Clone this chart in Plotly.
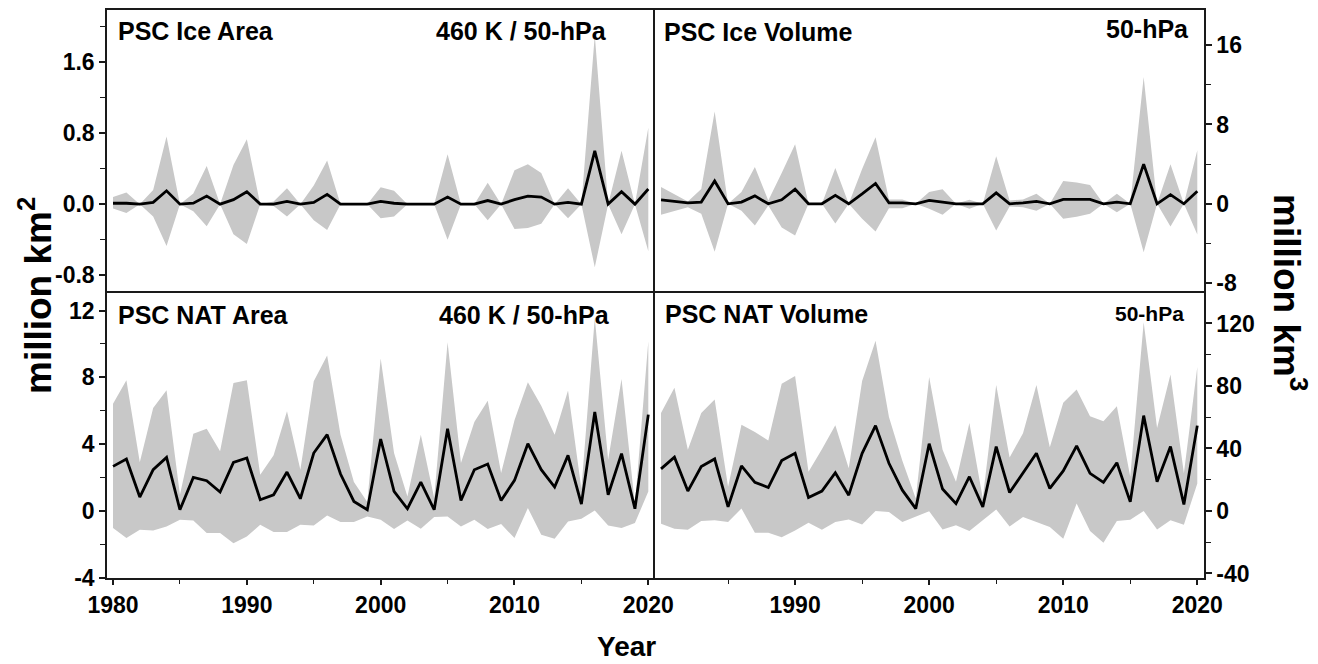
import plotly.graph_objects as go

years = list(range(1980, 2021))

ice_area_mean = [0.01, 0.01, 0.0, 0.02, 0.15, 0.0, 0.01, 0.09, 0.0, 0.05,
                 0.14, 0.0, 0.0, 0.03, 0.0, 0.02, 0.11, 0.0, 0.0, 0.0,
                 0.03, 0.01, 0.0, 0.0, 0.0, 0.08, 0.0, 0.0, 0.04, 0.0,
                 0.05, 0.09, 0.08, 0.0, 0.02, 0.0, 0.6, 0.0, 0.14, 0.0, 0.17]
ice_area_upper = [0.08, 0.13, 0.0, 0.16, 0.76, 0.0, 0.12, 0.43, 0.0, 0.44,
                  0.73, 0.0, 0.03, 0.18, 0.0, 0.21, 0.49, 0.0, 0.0, 0.0,
                  0.19, 0.15, 0.0, 0.0, 0.0, 0.56, 0.0, 0.0, 0.24, 0.0,
                  0.38, 0.45, 0.35, 0.0, 0.18, 0.0, 1.90, 0.0, 0.60, 0.0, 0.86]
ice_area_lower = [-0.05, -0.10, 0.0, -0.14, -0.47, 0.0, -0.08, -0.25, 0.0, -0.34,
                  -0.45, 0.0, -0.02, -0.14, 0.0, -0.18, -0.29, 0.0, 0.0, 0.0,
                  -0.16, -0.14, 0.0, 0.0, 0.0, -0.40, 0.0, 0.0, -0.18, 0.0,
                  -0.28, -0.27, -0.22, 0.0, -0.16, 0.0, -0.71, 0.0, -0.34, 0.0, -0.53]

ice_vol_mean = [0.4, 0.27, 0.1, 0.17, 2.3, 0.0, 0.17, 0.8, 0.0, 0.4,
                1.47, 0.0, 0.0, 0.85, 0.0, 1.0, 2.05, 0.1, 0.1, 0.0,
                0.34, 0.17, 0.0, 0.0, 0.0, 1.1, 0.0, 0.1, 0.24, 0.0,
                0.44, 0.44, 0.44, 0.0, 0.17, 0.0, 4.0, 0.0, 0.92, 0.0, 1.26]
ice_vol_upper = [1.7, 1.0, 0.24, 1.5, 9.3, 0.0, 1.2, 3.7, 0.34, 3.1,
                 6.0, 0.0, 0.0, 3.6, 0.0, 3.5, 6.7, 0.44, 0.44, 0.0,
                 1.2, 1.47, 0.0, 0.4, 0.0, 4.8, 0.34, 0.44, 1.0, 0.0,
                 2.3, 2.15, 1.9, 0.0, 1.0, 0.0, 12.8, 0.0, 4.0, 0.0, 5.4]
ice_vol_lower = [-1.1, -0.7, -0.34, -1.0, -4.85, 0.0, -0.7, -2.2, -0.17, -2.4,
                 -3.2, 0.0, 0.0, -2.0, 0.0, -1.5, -2.8, -0.44, -0.44, 0.0,
                 -0.5, -1.1, 0.0, -0.5, 0.0, -2.7, -0.27, -0.34, -0.7, 0.0,
                 -1.5, -1.3, -1.0, 0.0, -0.85, 0.0, -4.9, 0.0, -2.3, 0.0, -3.1]

nat_area_mean = [2.66, 3.1, 0.82, 2.46, 3.2, 0.06, 2.0, 1.8, 1.12, 2.9,
                 3.16, 0.66, 0.96, 2.32, 0.72, 3.46, 4.56, 2.2, 0.56, 0.06,
                 4.3, 1.16, 0.12, 1.72, 0.06, 4.92, 0.62, 2.46, 2.8, 0.62,
                 1.82, 4.02, 2.46, 1.42, 3.32, 0.4, 5.92, 0.96, 3.42, 0.12, 5.76]
nat_area_upper = [6.42, 7.82, 2.9, 6.16, 7.22, 0.96, 4.62, 4.92, 3.56, 7.66,
                  7.82, 2.16, 3.32, 5.96, 2.46, 7.76, 9.3, 4.56, 1.72, 0.52,
                  9.12, 3.46, 0.86, 4.56, 0.76, 10.1, 2.86, 5.32, 6.6, 2.26,
                  5.42, 7.7, 6.3, 4.56, 7.2, 1.3, 11.56, 3.06, 7.9, 0.36, 10.16]
nat_area_lower = [-1.04, -1.64, -1.14, -1.18, -0.94, -0.54, -0.58, -1.34, -1.34, -1.94,
                  -1.54, -0.84, -1.28, -1.28, -0.84, -0.88, -0.28, -0.68, -0.68, -0.34,
                  -0.54, -1.1, -0.58, -1.08, -0.38, -0.34, -0.94, -0.54, -1.1, -0.8,
                  -1.64, 0.16, -1.44, -1.68, -0.64, -0.48, 0.02, -0.88, -1.04, -0.74, 1.16]

nat_vol_mean = [26.9, 34.4, 12.7, 28.4, 33.3, 2.6, 28.8, 18.3, 15.0, 32.2,
                36.9, 8.6, 12.7, 24.5, 10.1, 36.9, 54.6, 30.5, 13.3, 1.5,
                43.0, 14.0, 4.7, 21.9, 2.6, 41.2, 11.8, 24.5, 36.9, 14.4,
                25.6, 41.7, 24.1, 18.3, 30.9, 5.8, 61.0, 18.7, 41.2, 4.1, 54.6]
nat_vol_upper = [62.7, 78.8, 39.1, 62.7, 71.3, 15.5, 55.2, 50.5, 45.1, 81.4,
                 86.4, 25.1, 39.5, 54.8, 27.3, 83.1, 108.9, 60.2, 32.2, 7.9,
                 85.7, 39.1, 18.7, 56.3, 7.9, 80.6, 34.2, 49.8, 80.6, 40.8,
                 69.2, 77.8, 60.6, 57.4, 67.0, 21.9, 120.7, 53.1, 87.4, 24.1, 92.2]
nat_vol_lower = [-8.2, -11.4, -12.0, -6.4, -6.0, -7.1, 1.5, -14.0, -14.0, -16.8,
                 -12.5, -7.5, -12.0, -7.1, -5.4, -8.6, 0.0, -0.6, -7.1, -3.9,
                 -0.2, -11.8, -9.2, -12.9, -6.0, 0.9, -9.9, -3.9, -7.1, -10.3,
                 -17.8, 4.7, -12.9, -20.4, -6.4, -5.6, 0.0, -11.8, -6.0, -8.8, 17.6]

left_year_ticks = [1980, 1990, 2000, 2010, 2020]
right_year_ticks = [1990, 2000, 2010, 2020]
ice_area_ticks = [-0.8, 0.0, 0.8, 1.6]
ice_area_labels = ["-0.8", "0.0", "0.8", "1.6"]
ice_vol_ticks = [-8, 0, 8, 16]
ice_vol_labels = ["-8", "0", "8", "16"]
nat_area_ticks = [-4, 0, 4, 8, 12]
nat_area_labels = ["-4", "0", "4", "8", "12"]
nat_vol_ticks = [-40, 0, 40, 80, 120]
nat_vol_labels = ["-40", "0", "40", "80", "120"]

# the page body has an 8 px margin, so the figure is offset by 8 px
OFF = 8
FW, FH = 1310, 656
FONT = "Liberation Sans"
BAND = "#c8c8c8"
AXC = "#1a1a1a"


def px(x):
    return (x - OFF) / FW


def py(y):
    return 1 - (y - OFF) / FH


fig = go.Figure()

panels = [
    ("x", "y", ice_area_mean, ice_area_upper, ice_area_lower),
    ("x2", "y2", ice_vol_mean, ice_vol_upper, ice_vol_lower),
    ("x3", "y3", nat_area_mean, nat_area_upper, nat_area_lower),
    ("x4", "y4", nat_vol_mean, nat_vol_upper, nat_vol_lower),
]
for xa, ya, m, up, lo in panels:
    fig.add_trace(go.Scatter(
        x=years + years[::-1], y=up + lo[::-1], fill="toself",
        fillcolor=BAND, line=dict(width=0), mode="lines",
        xaxis=xa, yaxis=ya, showlegend=False, hoverinfo="skip"))
    fig.add_trace(go.Scatter(
        x=years, y=m, mode="lines", line=dict(color="black", width=2.8),
        xaxis=xa, yaxis=ya, showlegend=False))

xl = [px(107), px(655)]
xr = [px(655), px(1204)]
yt = [py(293), py(9.5)]
yb = [py(577.5), py(293)]
xrange = [1979.55, 2020.5]
tickfont = dict(family=FONT, size=23, color="black", weight="bold")

common = dict(showline=True, linecolor=AXC, linewidth=1.5,
              showgrid=False, zeroline=False, automargin=False)


def xaxis_cfg(domain, anchor, labels):
    cfg = dict(common, domain=domain, anchor=anchor, range=xrange)
    if labels is None:
        cfg.update(showticklabels=False, ticks="", side="top", mirror=False)
    else:
        cfg.update(tickmode="array", tickvals=labels, mirror=True,
                   ticktext=[str(v) for v in labels],
                   ticks="outside", ticklen=6, tickwidth=1.5, tickcolor=AXC,
                   tickfont=tickfont, linewidth=1.8,
                   minor=dict(ticks="outside", ticklen=5, tickwidth=1.4,
                              tickcolor=AXC, tickmode="array",
                              tickvals=[1985, 1995, 2005, 2015]))
    return cfg


def yaxis_cfg(domain, anchor, rng, tv, tt, minor_vals, side):
    return dict(common, domain=domain, anchor=anchor, range=rng, side=side,
                mirror=(side == "right"),
                tickmode="array", tickvals=tv, ticktext=tt,
                ticks="outside", ticklen=6, tickwidth=1.5, tickcolor=AXC,
                tickfont=tickfont,
                minor=dict(ticks="outside", ticklen=5, tickwidth=1.4,
                           tickcolor=AXC, tickmode="array", tickvals=minor_vals))


fig.update_layout(
    width=FW, height=FH,
    margin=dict(l=0, r=0, t=0, b=0, autoexpand=False),
    paper_bgcolor="white", plot_bgcolor="white",
    xaxis=xaxis_cfg(xl, "y", None),
    xaxis2=xaxis_cfg(xr, "y2", None),
    xaxis3=xaxis_cfg(xl, "y3", left_year_ticks),
    xaxis4=xaxis_cfg(xr, "y4", right_year_ticks),
    yaxis=yaxis_cfg(yt, "x", [-1.0, 2.19], ice_area_ticks, ice_area_labels,
                    [-0.4, 0.4, 1.2, 2.0], "left"),
    yaxis2=yaxis_cfg(yt, "x2", [-9.0, 19.6], ice_vol_ticks, ice_vol_labels,
                     [-4, 4, 12], "right"),
    yaxis3=yaxis_cfg(yb, "x3", [-4.0, 13.05], nat_area_ticks, nat_area_labels,
                     [-2, 2, 6, 10], "left"),
    yaxis4=yaxis_cfg(yb, "x4", [-42.6, 139.5], nat_vol_ticks, nat_vol_labels,
                     [-20, 20, 60, 100], "right"),
)

tfont = dict(family=FONT, size=25, color="black", weight="bold")
ann = [
    ("PSC Ice Area", 116, 31, "left", tfont),
    ("460 K / 50-hPa", 609, 31, "right", tfont),
    ("PSC Ice Volume", 662, 32, "left", tfont),
    ("50-hPa", 1191, 29, "right", tfont),
    ("PSC NAT Area", 116, 315, "left", tfont),
    ("460 K / 50-hPa", 612, 315, "right", tfont),
    ("PSC NAT Volume", 663, 314, "left", tfont),
    ("50-hPa", 1186, 313, "right", dict(tfont, size=21)),
]
for text, x, y, xa, f in ann:
    fig.add_annotation(text=text, x=px(x), y=py(y), xref="paper", yref="paper",
                       xanchor=xa, yanchor="middle", showarrow=False, font=f)

afont = dict(family=FONT, size=37, color="black", weight="bold")
fig.add_annotation(text="million km<sup>2</sup>", x=px(36), y=py(296),
                   xref="paper", yref="paper", textangle=-90, showarrow=False,
                   xanchor="center", yanchor="middle", font=afont)
fig.add_annotation(text="million km<sup>3</sup>", x=px(1289), y=py(292),
                   xref="paper", yref="paper", textangle=90, showarrow=False,
                   xanchor="center", yanchor="middle", font=afont)
fig.add_annotation(text="Year", x=px(626), y=py(646), xref="paper", yref="paper",
                   showarrow=False, xanchor="center", yanchor="middle",
                   font=dict(family=FONT, size=28, color="black", weight="bold"))

fig.write_html("out.html")
